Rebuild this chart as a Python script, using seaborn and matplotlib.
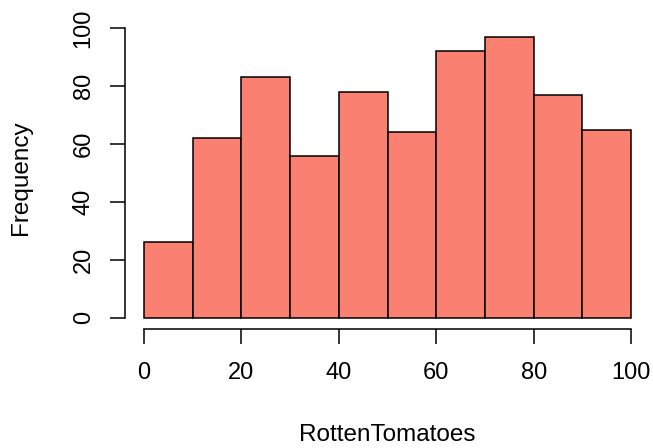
import numpy as np
import pandas as pd
import matplotlib
matplotlib.use("Agg")
import matplotlib.pyplot as plt
import seaborn as sns

# histogram counts per 10-point bin
bin_edges = [0, 10, 20, 30, 40, 50, 60, 70, 80, 90, 100]
counts = [26, 62, 83, 56, 78, 64, 92, 97, 77, 65]
x_ticks = [0, 20, 40, 60, 80, 100]
y_ticks = [0, 20, 40, 60, 80, 100]

df = pd.DataFrame({
    "RottenTomatoes": [(a + b) / 2 for a, b in zip(bin_edges[:-1], bin_edges[1:])],
    "n": counts,
})

sns.set_style("ticks", {"axes.labelcolor": "black", "xtick.color": "black",
                        "ytick.color": "black", "text.color": "black"})
plt.rcParams["font.family"] = ["Liberation Sans", "DejaVu Sans"]

fig = plt.figure(figsize=(6.53, 4.48), dpi=100)
ax = fig.add_axes([0.1907, 0.2658, 0.8055, 0.6768])

sns.histplot(data=df, x="RottenTomatoes", weights="n", bins=bin_edges,
             color="#FA8072", alpha=1, edgecolor="black", linewidth=1.1, ax=ax)

ax.set_xlim(-4, 104)
ax.set_ylim(-0.04 * 97, 97 * 1.04)

for s in ["top", "right"]:
    ax.spines[s].set_visible(False)
ax.spines["left"].set_bounds(0, 100)
ax.spines["bottom"].set_bounds(0, 100)
for s in ["left", "bottom"]:
    ax.spines[s].set_linewidth(1.1)
    ax.spines[s].set_color("black")

ax.set_xticks(x_ticks)
ax.set_yticks(y_ticks)
ax.tick_params(axis="both", length=11, width=1.1, color="black",
               labelcolor="black", labelsize=17, direction="out")
ax.tick_params(axis="x", pad=12.5)
ax.tick_params(axis="y", pad=10.5)
plt.setp(ax.get_yticklabels(), rotation=90, va="center", ha="right")

ax.set_xlabel("RottenTomatoes", fontsize=17.5, labelpad=29, color="black")
ax.set_ylabel("Frequency", fontsize=17.5, labelpad=29.5, color="black")

fig.savefig("out.png", dpi=100)
